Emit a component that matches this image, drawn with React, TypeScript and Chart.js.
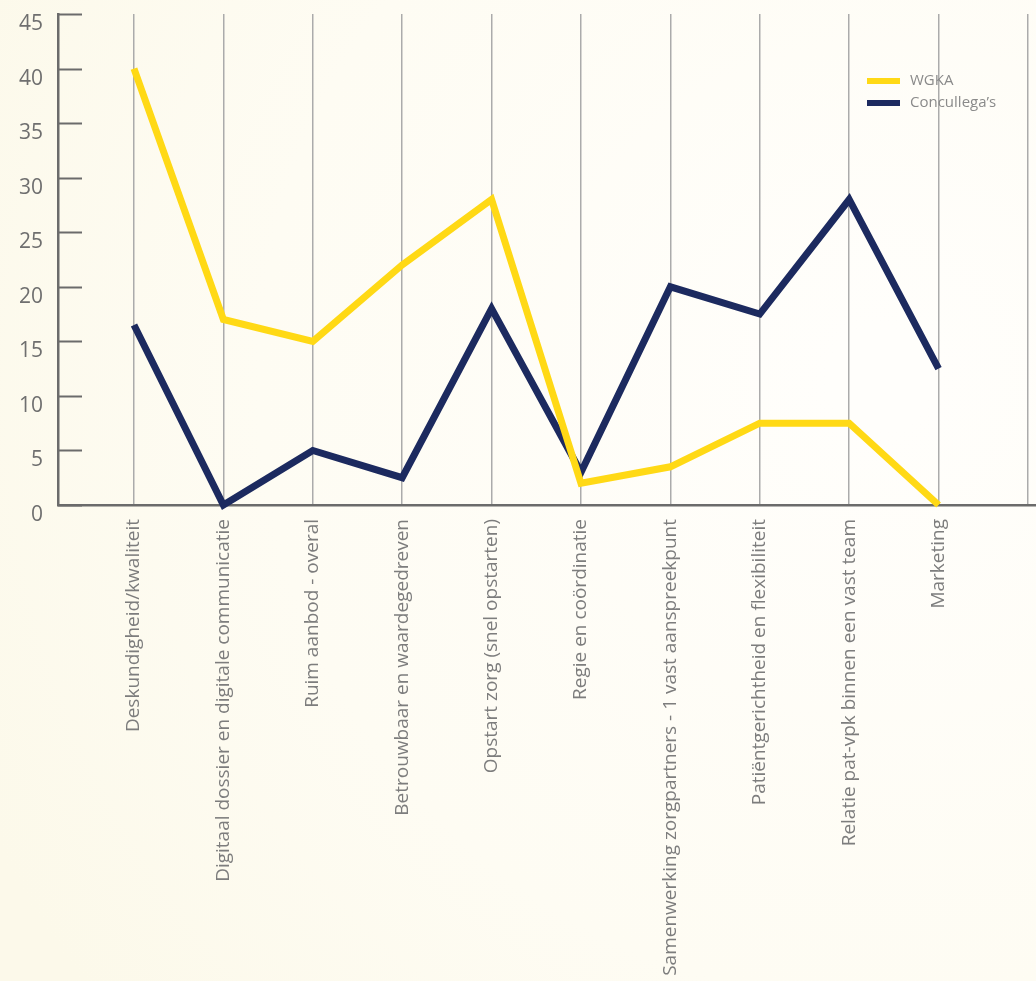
import React, { useEffect, useRef } from "react";
import { Chart, registerables } from "chart.js";

Chart.register(...registerables);

const categories = [
  "Deskundigheid/kwaliteit",
  "Digitaal dossier en digitale communicatie",
  "Ruim aanbod - overal",
  "Betrouwbaar en waardegedreven",
  "Opstart zorg (snel opstarten)",
  "Regie en coördinatie",
  "Samenwerking zorgpartners - 1 vast aanspreekpunt",
  "Patiëntgerichtheid en flexibiliteit",
  "Relatie pat-vpk binnen een vast team",
  "Marketing",
];

const wgkaValues = [40, 17, 15, 22, 28, 2, 3.5, 7.5, 7.5, 0];
const concullegaValues = [16.5, 0, 5, 2.5, 18, 3, 20, 17.5, 28, 12.5];
const yTickValues = [0, 5, 10, 15, 20, 25, 30, 35, 40, 45];
const seriesNames = ["WGKA", "Concullega\u2019s"];
const seriesColors = ["#ffd915", "#1c2a5f"];

const FONT = "'Open Sans', 'Noto Sans', sans-serif";

export default function App() {
  const ref = useRef<HTMLCanvasElement | null>(null);

  useEffect(() => {
    document.body.style.margin = "0";
    const canvas = ref.current;
    if (!canvas) return;

    const bgPlugin = {
      id: "bg",
      beforeDraw(chart: any) {
        const { ctx, width, height } = chart;
        ctx.save();
        const g = ctx.createRadialGradient(880, 380, 50, 880, 380, 1000);
        g.addColorStop(0, "#fffefb");
        g.addColorStop(0.6, "#fefcf3");
        g.addColorStop(1, "#fcf9ea");
        ctx.fillStyle = g;
        ctx.fillRect(0, 0, width, height);
        ctx.restore();
      },
    };

    const decoPlugin = {
      id: "deco",
      afterDraw(chart: any) {
        const { ctx, chartArea } = chart;
        const y = chart.scales.y;
        ctx.save();
        ctx.strokeStyle = "#6b6b6b";
        ctx.lineWidth = 2;
        yTickValues.forEach((v) => {
          const py = Math.round(y.getPixelForValue(v)) + 0.5;
          ctx.beginPath();
          ctx.moveTo(chartArea.left, py);
          ctx.lineTo(chartArea.left + 24, py);
          ctx.stroke();
        });
        // legend
        const lx = 867;
        const ly = [81, 103];
        ctx.font = `15px ${FONT}`;
        ctx.textBaseline = "middle";
        seriesNames.forEach((name, i) => {
          ctx.fillStyle = seriesColors[i];
          ctx.fillRect(lx, ly[i] - 3, 33, 6);
          ctx.fillStyle = "#8a8a8a";
          ctx.fillText(name, lx + 43, ly[i]);
        });
        ctx.restore();
      },
    };

    const chart = new Chart(canvas, {
      type: "line",
      data: {
        datasets: [
          {
            label: seriesNames[0],
            data: wgkaValues.map((v, i) => ({ x: i, y: v })),
            borderColor: seriesColors[0],
            backgroundColor: seriesColors[0],
            borderWidth: 7,
            pointRadius: 0,
            tension: 0,
            borderJoinStyle: "miter",
            borderCapStyle: "butt",
            clip: false,
          },
          {
            label: seriesNames[1],
            data: concullegaValues.map((v, i) => ({ x: i, y: v })),
            borderColor: seriesColors[1],
            backgroundColor: seriesColors[1],
            borderWidth: 7,
            pointRadius: 0,
            tension: 0,
            borderJoinStyle: "miter",
            borderCapStyle: "butt",
            clip: false,
          },
        ],
      },
      options: {
        animation: false,
        responsive: false,
        devicePixelRatio: 1,
        layout: { padding: { top: 14, right: 0, left: 0, bottom: 0 } },
        plugins: {
          legend: { display: false },
          tooltip: { enabled: false },
        },
        scales: {
          x: {
            type: "linear",
            position: "bottom",
            min: -0.85,
            max: 10.09,
            afterBuildTicks(scale: any) {
              scale.ticks = categories.map((_, i) => ({ value: i })).concat([{ value: categories.length }]);
            },
            afterFit(scale: any) {
              scale.height = 981 - 505;
              scale.paddingLeft = 0;
              scale.paddingRight = 0;
            },
            ticks: {
              autoSkip: false,
              minRotation: 90,
              maxRotation: 90,
              padding: 14,
              color: "#7d7d7d",
              font: { family: FONT, size: 19 },
              callback: (v: any) => categories[v as number] ?? "",
            },
            grid: {
              color: "#ababab",
              lineWidth: 1.5,
              drawTicks: false,
            },
            border: { display: true, color: "#6b6b6b", width: 2.5 },
          },
          y: {
            min: 0,
            max: 45,
            afterBuildTicks(scale: any) {
              scale.ticks = yTickValues.map((v) => ({ value: v }));
            },
            afterFit(scale: any) {
              scale.width = 58;
              scale.paddingTop = 0;
              scale.paddingBottom = 0;
            },
            ticks: {
              padding: 15,
              labelOffset: 10,
              color: "#6f6f6f",
              font: { family: FONT, size: 21 },
            },
            grid: { display: false, drawTicks: false },
            border: { display: true, color: "#6b6b6b", width: 2.5 },
          },
        },
      },
      plugins: [bgPlugin, decoPlugin],
    } as any);

    return () => chart.destroy();
  }, []);

  return (
    <div style={{ width: 1036, height: 981 }}>
      <canvas ref={ref} width={1036} height={981} style={{ display: "block" }} />
    </div>
  );
}
